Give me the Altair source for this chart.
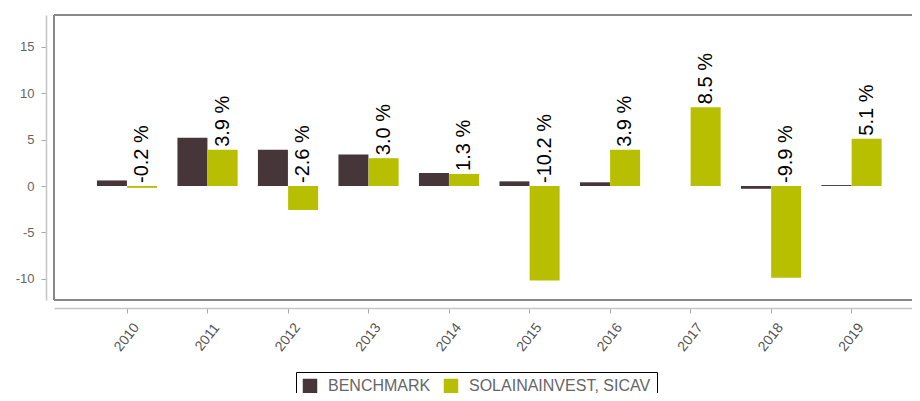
import altair as alt
import pandas as pd

years = ["2010", "2011", "2012", "2013", "2014", "2015", "2016", "2017", "2018", "2019"]
benchmark = [0.6, 5.2, 3.9, 3.4, 1.4, 0.5, 0.4, 0.0, -0.3, 0.1]
solain = [-0.2, 3.9, -2.6, 3.0, 1.3, -10.2, 3.9, 8.5, -9.9, 5.1]
series_names = ["BENCHMARK", "SOLAINAINVEST, SICAV"]
series_colors = ["#46363a", "#b8bf00"]
y_ticks = [-10, -5, 0, 5, 10, 15]

rows = []
for i, y in enumerate(years):
    rows.append({"year": y, "series": series_names[0], "value": benchmark[i]})
    rows.append({"year": y, "series": series_names[1], "value": solain[i]})
df = pd.DataFrame(rows)

W = 858
H = 285
FRAME = "#888888"

x_enc = alt.X(
    "year:N",
    sort=years,
    scale=alt.Scale(paddingInner=0.25, paddingOuter=0.454, align=0.586),
    axis=alt.Axis(
        title=None,
        offset=8,
        tickSize=5,
        tickColor="#aaaaaa",
        domainColor="#c4c4c4",
        domainWidth=1.5,
        labelAngle=-52,
        labelAlign="center",
        labelBaseline="middle",
        labelPadding=24,
        labelColor="#555555",
        labelFontSize=14,
        labelFont="Liberation Sans",
    ),
)

y_scale = alt.Scale(domain=[-12.3, 18.45], nice=False, zero=False)

bars = alt.Chart(df).mark_bar(size=30).encode(
    x=x_enc,
    xOffset=alt.XOffset("series:N", sort=series_names),
    y=alt.Y(
        "value:Q",
        scale=y_scale,
        axis=alt.Axis(
            title=None,
            values=y_ticks,
            grid=False,
            offset=8,
            tickSize=5,
            tickColor="#aaaaaa",
            domainColor="#c4c4c4",
            domainWidth=1.5,
            labelPadding=7,
            labelColor="#666666",
            labelFontSize=13,
            labelFont="Liberation Sans",
            labelExpr="replace(datum.label, '\u2212', '-')",
        ),
    ),
    color=alt.Color(
        "series:N",
        sort=series_names,
        scale=alt.Scale(domain=series_names, range=series_colors),
        legend=alt.Legend(
            title=None,
            orient="none",
            legendX=242,
            legendY=357,
            direction="horizontal",
            symbolType="square",
            symbolSize=210,
            symbolStrokeWidth=0,
            labelFontSize=16,
            labelFont="Liberation Sans",
            labelColor="#666666",
            labelLimit=0,
            labelOffset=10,
            columnPadding=12,
            padding=6,
            strokeColor="#000000",
            fillColor="#ffffff",
        ),
    ),
)

labels = (
    alt.Chart(df)
    .transform_filter(alt.datum.series == series_names[1])
    .transform_calculate(
        pos="max(datum.value, 0)",
        txt="replace(format(datum.value, '.1f'), '\u2212', '-') + ' %'",
    )
    .mark_text(
        angle=270,
        align="left",
        baseline="middle",
        dx=3,
        fontSize=20,
        font="Liberation Sans",
        color="#000000",
    )
    .encode(
        x=alt.X("year:N", sort=years),
        xOffset=alt.XOffset("series:N", sort=series_names),
        y=alt.Y("pos:Q", scale=y_scale),
        text="txt:N",
    )
)

frame_df = pd.DataFrame({"k": [0]})
frame_top = alt.Chart(frame_df).mark_rule(color=FRAME, strokeWidth=2).encode(
    x=alt.value(0), x2=alt.value(W + 10), y=alt.value(0)
)
frame_left = alt.Chart(frame_df).mark_rule(color=FRAME, strokeWidth=2).encode(
    x=alt.value(0), y=alt.value(0), y2=alt.value(H)
)
frame_bottom = alt.Chart(frame_df).mark_rule(color=FRAME, strokeWidth=2).encode(
    x=alt.value(0), x2=alt.value(W + 10), y=alt.value(H)
)

chart = (
    alt.layer(bars, labels, frame_top, frame_left, frame_bottom)
    .properties(
        width=W,
        height=H,
        autosize=alt.AutoSizeParams(type="none"),
        padding={"left": 46, "top": 7, "right": 0, "bottom": 93},
        background="#ffffff",
    )
    .configure_view(stroke=None)
    .configure_scale(offsetBandPaddingInner=0, offsetBandPaddingOuter=0)
)

chart.save("out.html", embed_options={"renderer": "svg", "actions": False})
